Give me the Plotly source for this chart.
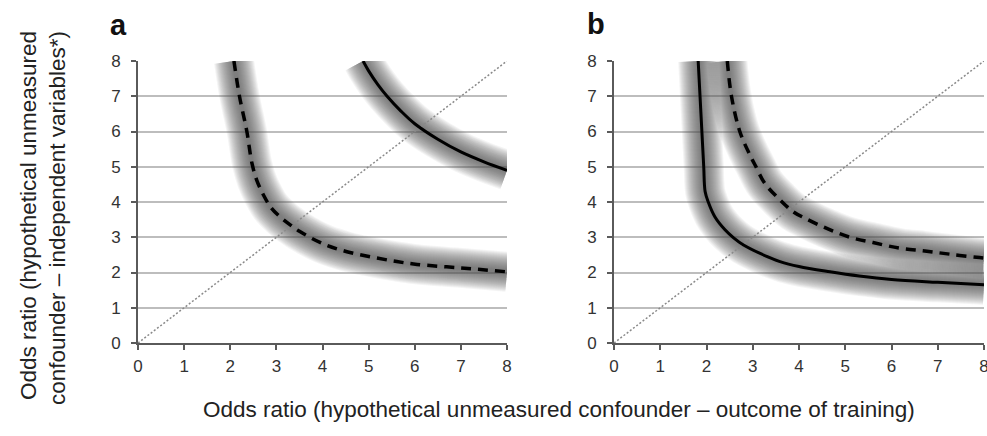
import plotly.graph_objects as go

# ---------------- data ----------------
diag_x = [0, 8]
diag_y = [0, 8]

# panel a
a_solid_x = [4.88, 5.0, 5.2, 5.4, 5.7, 6.0, 6.5, 7.0, 7.5, 8.0]
a_solid_y = [8.0, 7.72, 7.33, 7.0, 6.58, 6.22, 5.78, 5.42, 5.14, 4.9]

a_dash_x = [2.08, 2.2, 2.36, 2.47, 2.58, 2.72, 2.88, 3.08, 3.3, 3.51, 4.02, 4.53, 5.1, 5.61, 6.05, 7.0, 8.0]
a_dash_y = [8.0, 7.0, 6.0, 5.1, 4.6, 4.2, 3.85, 3.58, 3.35, 3.16, 2.81, 2.59, 2.43, 2.31, 2.23, 2.13, 2.02]

# panel b
b_solid_x = [1.82, 1.86, 1.90, 1.94, 1.97, 2.04, 2.18, 2.40, 2.58, 2.80, 3.16, 3.59, 4.0, 4.67, 5.3, 6.0, 7.0, 8.0]
b_solid_y = [8.0, 7.0, 6.0, 5.0, 4.3, 3.99, 3.58, 3.21, 2.99, 2.78, 2.54, 2.31, 2.17, 2.02, 1.9, 1.8, 1.72, 1.65]

b_dash_x = [2.45, 2.54, 2.72, 2.94, 3.05, 3.26, 3.59, 3.88, 4.13, 4.6, 5.1, 5.6, 6.18, 6.72, 7.26, 7.84, 8.0]
b_dash_y = [8.0, 7.0, 6.0, 5.33, 5.05, 4.53, 4.06, 3.72, 3.54, 3.25, 3.0, 2.85, 2.69, 2.61, 2.52, 2.43, 2.41]

tick_vals = [0, 1, 2, 3, 4, 5, 6, 7, 8]
tick_text = ["0", "1", "2", "3", "4", "5", "6", "7", "8"]

panel_labels = ["a", "b"]
x_title = "Odds ratio (hypothetical unmeasured confounder \u2013 outcome of training)"
y_title = "Odds ratio (hypothetical unmeasured<br>confounder \u2013 independent variables*)"

# ---------------- figure ----------------
W, H = 987, 436
FONT = "Liberation Sans, Arial, sans-serif"

fig = go.Figure()

glow_widths = list(range(40, 3, -2))
glow_color = "rgba(80,80,80,0.064)"


def add_glow(xs, ys, xa, ya):
    for w in glow_widths:
        fig.add_trace(go.Scatter(
            x=xs, y=ys, mode="lines", xaxis=xa, yaxis=ya,
            line=dict(color=glow_color, width=w, shape="spline", smoothing=1.0),
            hoverinfo="skip", showlegend=False))


def add_line(xs, ys, xa, ya, dash):
    fig.add_trace(go.Scatter(
        x=xs, y=ys, mode="lines", xaxis=xa, yaxis=ya,
        line=dict(color="black", width=3 if dash == "solid" else 3.5,
                  dash=dash, shape="spline", smoothing=1.0),
        hoverinfo="skip", showlegend=False))


def add_diag(xa, ya):
    fig.add_trace(go.Scatter(
        x=diag_x, y=diag_y, mode="lines", xaxis=xa, yaxis=ya,
        line=dict(color="#8a8a8a", width=1.5, dash="2px,2px"),
        hoverinfo="skip", showlegend=False))


add_glow(a_solid_x, a_solid_y, "x", "y")
add_glow(a_dash_x, a_dash_y, "x", "y")
add_glow(b_solid_x, b_solid_y, "x2", "y2")
add_glow(b_dash_x, b_dash_y, "x2", "y2")
add_diag("x", "y")
add_diag("x2", "y2")
add_line(a_solid_x, a_solid_y, "x", "y", "solid")
add_line(a_dash_x, a_dash_y, "x", "y", "10px,7px")
add_line(b_solid_x, b_solid_y, "x2", "y2", "solid")
add_line(b_dash_x, b_dash_y, "x2", "y2", "10px,7px")

ydom = [1 - 343 / H, 1 - 61 / H]
xdom_a = [138 / W, 507 / W]
xdom_b = [614 / W, 984 / W]

xcommon = dict(range=[0, 8], tickmode="array", tickvals=tick_vals, ticktext=tick_text,
               showgrid=False, zeroline=False, showline=True, linecolor="#5a5a5a", linewidth=2,
               ticks="outside", ticklen=5, tickwidth=1.5, tickcolor="#5a5a5a",
               ticklabelstandoff=2, ticklabeloverflow="allow",
               tickfont=dict(family=FONT, size=17, color="#333333"), fixedrange=True)
ycommon = dict(range=[0, 8], tickmode="array", tickvals=tick_vals, ticktext=tick_text,
               showgrid=True, gridcolor="#bdbdbd", gridwidth=1.5,
               zeroline=False, showline=True, linecolor="#5a5a5a", linewidth=2,
               ticks="outside", ticklen=5, tickwidth=1.5, tickcolor="#5a5a5a",
               ticklabelstandoff=7,
               tickfont=dict(family=FONT, size=17, color="#333333"), fixedrange=True)

fig.update_layout(
    width=W, height=H,
    margin=dict(l=0, r=0, t=0, b=0, autoexpand=False),
    paper_bgcolor="white", plot_bgcolor="white",
    showlegend=False,
    xaxis=dict(domain=xdom_a, anchor="y", **xcommon),
    yaxis=dict(domain=ydom, anchor="x", **ycommon),
    xaxis2=dict(domain=xdom_b, anchor="y2", **xcommon),
    yaxis2=dict(domain=ydom, anchor="x2", **ycommon),
    annotations=[
        dict(text="<b>%s</b>" % panel_labels[0], x=108 / W, y=1 - 43 / H, xref="paper", yref="paper",
             xanchor="left", yanchor="bottom", showarrow=False,
             font=dict(family=FONT, size=29, color="#111111")),
        dict(text="<b>%s</b>" % panel_labels[1], x=585 / W, y=1 - 42 / H, xref="paper", yref="paper",
             xanchor="left", yanchor="bottom", showarrow=False,
             font=dict(family=FONT, size=29, color="#111111")),
        dict(text=x_title, x=559 / W, y=1 - 409 / H, xref="paper", yref="paper",
             xanchor="center", yanchor="middle", showarrow=False,
             font=dict(family=FONT, size=22.5, color="#222222")),
        dict(text=y_title, x=43 / W, y=1 - 218 / H, xref="paper", yref="paper",
             xanchor="center", yanchor="middle", showarrow=False, textangle=-90, align="right",
             font=dict(family=FONT, size=22.5, color="#222222")),
    ],
)

fig.write_html("out.html", config={"displayModeBar": False},
               post_script="document.body.style.margin='0';document.body.style.overflow='hidden';")
